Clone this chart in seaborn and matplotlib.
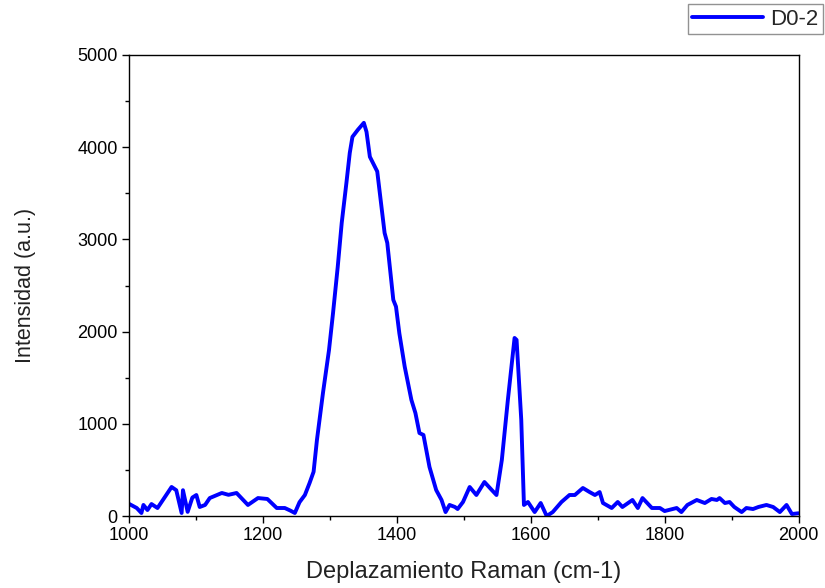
import matplotlib
matplotlib.use("Agg")
import matplotlib.pyplot as plt
from matplotlib.ticker import MultipleLocator
import seaborn as sns
import pandas as pd

shift = [1001, 1012, 1019, 1022, 1028, 1034, 1043, 1054, 1064, 1071, 1079, 1081, 1088, 1095,
         1101, 1106, 1114, 1121, 1139, 1149, 1161, 1178, 1193, 1207, 1221, 1233, 1241, 1248,
         1255, 1263, 1270, 1276, 1281, 1290, 1299, 1305, 1312, 1318, 1325, 1330, 1334, 1342,
         1351, 1355, 1360, 1371, 1382, 1386, 1395, 1399, 1404, 1412, 1422, 1428, 1434, 1440,
         1449, 1459, 1467, 1473, 1479, 1487, 1491, 1499, 1509,
         1519, 1531, 1542, 1549, 1557, 1566, 1576, 1579, 1586, 1590, 1596, 1606, 1615, 1624,
         1633, 1646, 1658, 1666, 1678, 1688, 1696, 1703, 1708, 1721, 1730, 1737, 1752, 1760,
         1767, 1781, 1793, 1800, 1818, 1825, 1834, 1848, 1860, 1870, 1878, 1882, 1890, 1897,
         1904, 1915, 1922, 1932, 1940, 1952, 1962, 1972, 1982, 1990, 2000]
intensity = [130, 87, 33, 120, 65, 130, 87, 206, 315, 280, 33, 280, 45, 200,
             228, 98, 120, 195, 250, 230, 250, 120, 195, 185, 87, 87, 60, 33,
             150, 228, 358, 480, 825, 1335, 1800, 2200, 2700, 3180, 3613, 3938, 4112, 4188,
             4264, 4166, 3896, 3737, 3070, 2962, 2344, 2271, 1982, 1620, 1259, 1117, 900, 879,
             532, 282, 174, 43, 120, 98, 76, 152, 315,
             228, 369, 282, 228, 608, 1259, 1931, 1910, 1042, 120, 152, 43, 141, 0,
             43, 152, 228, 228, 304, 260, 228, 260, 141, 87, 152, 98, 174, 87,
             195, 87, 87, 54, 87, 43, 120, 174, 141, 185, 174, 195, 141, 152,
             98, 43, 87, 76, 98, 120, 98, 43, 120, 22, 30]
series_name = "D0-2"
x_ticks = [1000, 1200, 1400, 1600, 1800, 2000]
y_ticks = [0, 1000, 2000, 3000, 4000, 5000]

df = pd.DataFrame({"x": shift, "y": intensity, "s": series_name})

sns.set_theme(style="white")
plt.rcParams["font.family"] = ["Liberation Sans", "DejaVu Sans"]

fig = plt.figure(figsize=(8.25, 5.88), dpi=100)
ax = fig.add_axes([0.156, 0.1224, 0.812, 0.7841])
sns.lineplot(data=df, x="x", y="y", hue="s", palette=["#0000ff"], sort=False,
             linewidth=2.8, ax=ax, legend=False)

ax.set_xlim(1000, 2000)
ax.set_ylim(0, 5000)
ax.set_xticks(x_ticks)
ax.set_yticks(y_ticks)
ax.xaxis.set_minor_locator(MultipleLocator(100))
ax.yaxis.set_minor_locator(MultipleLocator(500))
ax.tick_params(which="major", direction="out", length=5, width=1, color="black",
               labelsize=13, labelcolor="black", bottom=True, left=True, pad=3)
ax.tick_params(which="minor", direction="out", length=3, width=1, color="black",
               bottom=True, left=True)
for sp in ax.spines.values():
    sp.set_color("black")
    sp.set_linewidth(1.0)
ax.set_xlabel("Deplazamiento Raman (cm-1)", fontsize=17, color="#222222", labelpad=12)
ax.set_ylabel("Intensidad (a.u.)", fontsize=15.5, color="#222222", labelpad=30)

handle = plt.Line2D([], [], color="#0000ff", linewidth=2.8)
leg = fig.legend([handle], [series_name], loc="upper right",
                 bbox_to_anchor=(0.997, 0.993), fontsize=16, frameon=True,
                 fancybox=False, handlelength=3.2, borderpad=0.2, handletextpad=0.3,
                 borderaxespad=0)
leg.get_frame().set_edgecolor("#777777")
leg.get_frame().set_linewidth(1.0)

fig.savefig("out.png", dpi=100)
